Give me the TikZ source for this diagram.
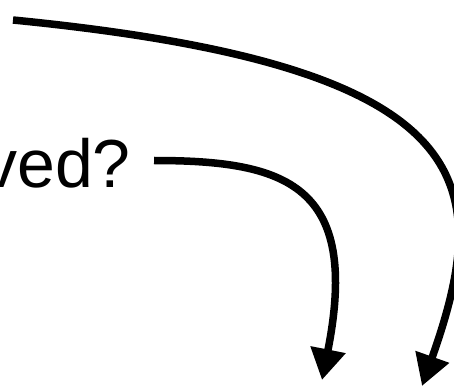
\documentclass[tikz,border=0pt]{standalone}
\usepackage{fontspec}
\setmainfont{Liberation Sans}
\usetikzlibrary{arrows.meta}
\tikzset{
  bigarrow/.style={line width=7.5pt, -{Triangle[length=31pt 0 0, width=34pt 0 0]}, line cap=butt},
  lbl/.style={inner sep=0pt, font=\fontsize{68pt}{74pt}\selectfont, anchor=base east}
}
\begin{document}
\begin{tikzpicture}[x=1pt, y=-1pt]
\useasboundingbox (0,0) rectangle (454,387);
\clip (0,0) rectangle (454,387);
\node[lbl] (q) at (131,187) {ved?};
\coordinate (s1) at (13,20);
\coordinate (e1) at (422,386);
\coordinate (s2) at (154,160.5);
\coordinate (e2) at (322,380);
\draw[bigarrow] (s1) .. controls (480,66) and (495,180) .. (e1);
\draw[bigarrow] (s2) .. controls (285,160.5) and (361,184) .. (e2);
\end{tikzpicture}
\end{document}
